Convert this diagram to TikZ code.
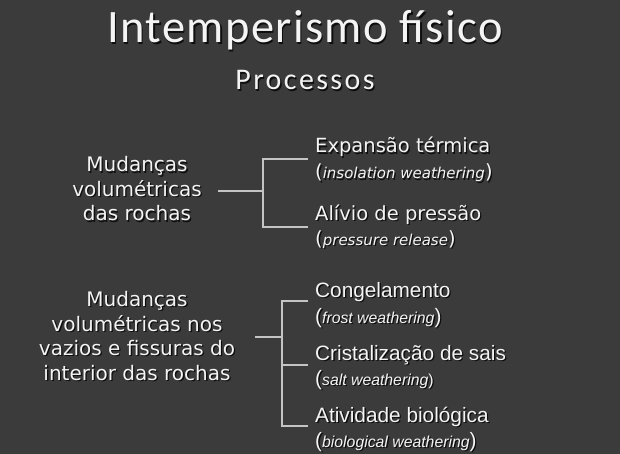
\documentclass[tikz,border=0pt]{standalone}
\usepackage{fontspec}
\setmainfont{DejaVu Sans}
\newfontfamily\titlefont[LetterSpace=3]{Carlito}
\newfontfamily\subfont[LetterSpace=8]{Carlito}
\newfontfamily\arialf{Liberation Sans}
\definecolor{bg}{HTML}{3B3B3B}
\definecolor{fg}{HTML}{F4F4F4}
\definecolor{shc}{HTML}{0E0E0E}
\definecolor{lc}{HTML}{C4C4C4}
\newcommand\sh[1]{\leavevmode\rlap{\kern1.3pt\raisebox{-1.3pt}{\color{shc}#1}}#1}
\newcommand\bigf{\fontsize{19.5}{25}\selectfont}
\newcommand\smf{\fontsize{15}{18}\selectfont}
\newcommand\abigf{\fontsize{20.8}{25}\selectfont}
\newcommand\asmf{\fontsize{15.8}{18}\selectfont}
\begin{document}
\begin{tikzpicture}[x=1pt,y=-1pt,
  txt/.style={text=fg, inner sep=0pt},
  lblock/.style={txt, anchor=base, align=center, font=\fontsize{20}{24.5}\selectfont},
  link/.style={draw=lc, line width=1.1pt}]
\fill[bg] (0,0) rectangle (620,454);
\useasboundingbox (0,0) rectangle (620,454);
% titles
\node[txt, anchor=base] (title) at (305,43) {\titlefont\fontsize{46.5}{50}\selectfont\sh{Intemperismo físico}};
\node[txt, anchor=base] (sub) at (305,90) {\subfont\fontsize{30}{32}\selectfont\sh{Processos}};
% left blocks (base anchor = last line)
\node[lblock] (l1) at (137,221)
  {\sh{Mudanças}\\\sh{volumétricas}\\\sh{das rochas}};
\node[lblock] (l2) at (137,380)
  {\sh{Mudanças}\\\sh{volumétricas nos}\\\sh{vazios e fissuras do}\\\sh{interior das rochas}};
% right block 1
\node[txt, anchor=base west] (r1) at (315,153) {\bigf\sh{Expansão térmica}};
\node[txt, anchor=base west] (r1b) at (315,179) {\bigf\sh{(\smf\itshape insolation weathering\/\bigf\upshape)}};
\node[txt, anchor=base west] (r2) at (315,220) {\bigf\sh{Alívio de pressão}};
\node[txt, anchor=base west] (r2b) at (315,245) {\bigf\sh{(\smf\itshape pressure release\/\bigf\upshape)}};
% right block 2
\node[txt, anchor=base west] (r3) at (315,297) {\arialf\abigf\sh{Congelamento}};
\node[txt, anchor=base west] (r3b) at (315,323) {\arialf\abigf\sh{(\asmf\itshape frost weathering\/\abigf\upshape)}};
\node[txt, anchor=base west] (r4) at (315,360) {\arialf\abigf\sh{Cristalização de sais}};
\node[txt, anchor=base west] (r4b) at (315,385) {\arialf\abigf\sh{(\asmf\itshape salt weathering\/\upshape)}};
\node[txt, anchor=base west] (r5) at (315,422) {\arialf\abigf\sh{Atividade biológica}};
\node[txt, anchor=base west] (r5b) at (315,447) {\arialf\abigf\sh{(\asmf\itshape biological weathering\/\abigf\upshape)}};
% connector 1
\coordinate (a1) at (218,191);
\coordinate (j1) at (263,191);
\coordinate (t1) at (263,159);
\coordinate (b1) at (263,227);
\coordinate (e1) at (308,159);
\coordinate (e2) at (308,227);
\draw[link] (a1) -- (j1);
\draw[link] (e1) -- (t1) -- (b1) -- (e2);
% connector 2
\coordinate (a2) at (255,337);
\coordinate (j2) at (282,337);
\coordinate (t2) at (282,301);
\coordinate (m2) at (282,365);
\coordinate (b2) at (282,426);
\coordinate (e3) at (308,301);
\coordinate (e4) at (308,365);
\coordinate (e5) at (308,426);
\draw[link] (a2) -- (j2);
\draw[link] (e3) -- (t2) -- (b2) -- (e5);
\draw[link] (m2) -- (e4);
\end{tikzpicture}
\end{document}
